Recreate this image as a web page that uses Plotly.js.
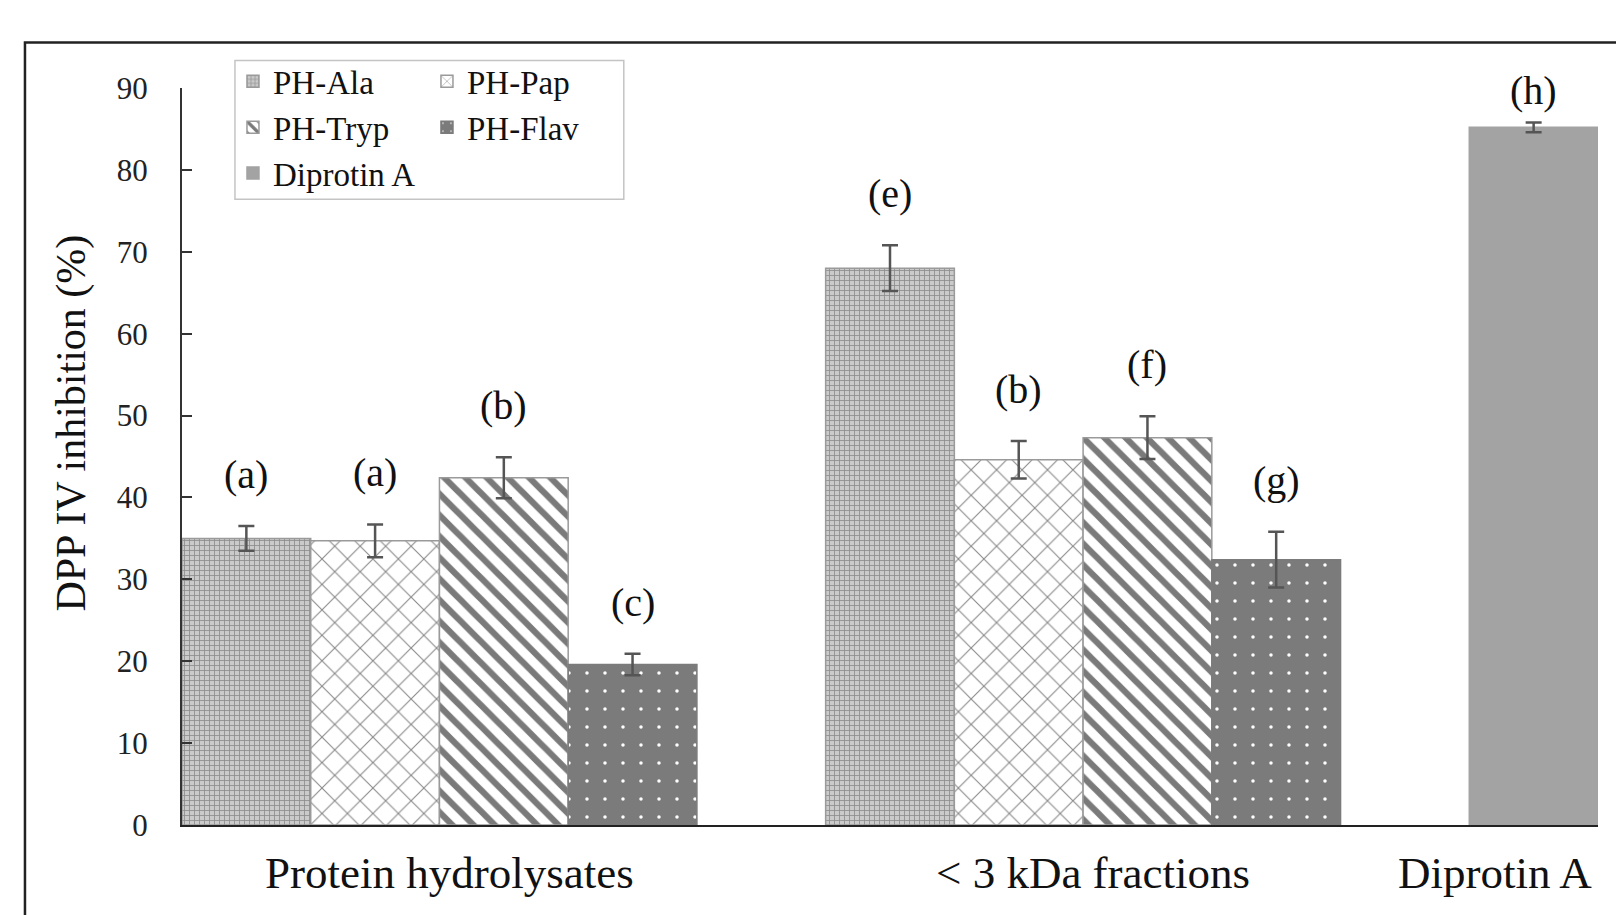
<!DOCTYPE html>
<html><head><meta charset="utf-8">
<script src="https://cdn.plot.ly/plotly-3.0.1.min.js"></script>
<style>html,body{margin:0;padding:0;background:#fff}#chart{width:1616px;height:915px}</style>
</head><body><div id="chart"></div>
<script>
// ---- data ----
const groups = ['Protein hydrolysates', '< 3 kDa fractions', 'Diprotin A'];
const seriesNames = ['PH-Ala', 'PH-Pap', 'PH-Tryp', 'PH-Flav', 'Diprotin A'];
const phAla     = [35.0, 68.0, null];
const phPap     = [34.7, 44.6, null];
const phTryp    = [42.4, 47.3, null];
const phFlav    = [19.6, 32.4, null];
const diprotinA = [null, null, 85.2];
const errAla     = [1.5, 2.8, null];
const errPap     = [2.0, 2.3, null];
const errTryp    = [2.5, 2.6, null];
const errFlav    = [1.3, 3.4, null];
const errDiprotin = [null, null, 0.6];
const lettersAla  = ['(a)', '(e)', null];
const lettersPap  = ['(a)', '(b)', null];
const lettersTryp = ['(b)', '(f)', null];
const lettersFlav = ['(c)', '(g)', null];
const lettersDiprotin = [null, null, '(h)'];
const yTicks = [0, 10, 20, 30, 40, 50, 60, 70, 80, 90];
const yTitle = 'DPP IV inhibition (%)';

// ---- assembly ----
const seriesValues = [phAla, phPap, phTryp, phFlav, diprotinA];
const seriesErr = [errAla, errPap, errTryp, errFlav, errDiprotin];
const seriesLetters = [lettersAla, lettersPap, lettersTryp, lettersFlav, lettersDiprotin];
const SLOTS = 5;
const Y_MAX = yTicks[yTicks.length - 1];
const xPos = seriesValues.map(() => []);
const groupCenters = [];
groups.forEach((g, gi) => {
  let k = 0; const xs = [];
  seriesValues.forEach((vals, si) => {
    if (vals[gi] != null) { xPos[si][gi] = gi * SLOTS + k + 0.5; xs.push(xPos[si][gi]); k++; }
    else xPos[si][gi] = null;
  });
  groupCenters.push(xs.reduce((a, b) => a + b, 0) / xs.length);
});
const xMax = Math.max(...xPos.flat().filter(v => v != null)) + 0.5;

const styles = [
  {pattern: {shape: '+', fgcolor: '#8c8c8c', bgcolor: '#cacaca', size: 5, solidity: 0.3}, line: '#9a9a9a', legend: 'legend'},
  {pattern: {shape: 'x', fgcolor: '#8a8a8a', bgcolor: '#ffffff', size: 18, solidity: 0.12}, line: '#9a9a9a', legend: 'legend2'},
  {pattern: {shape: '\\', fgcolor: '#7a7a7a', bgcolor: '#ffffff', size: 15, solidity: 0.42}, line: '#9a9a9a', legend: 'legend'},
  {pattern: {shape: '.', fgcolor: '#ffffff', bgcolor: '#7b7b7b', size: 18, solidity: 0.03}, line: '#7b7b7b', legend: 'legend2'},
  {pattern: null, color: '#a3a3a3', line: '#a3a3a3', legend: 'legend'}
];

const FONT = 'Liberation Serif, Times New Roman, serif';
const traces = seriesValues.map((vals, si) => {
  const idx = vals.map((v, i) => v != null ? i : -1).filter(i => i >= 0);
  const st = styles[si];
  const marker = {line: {color: st.line, width: 1.5}};
  if (st.pattern) { marker.color = st.pattern.bgcolor; marker.pattern = Object.assign({fillmode: 'replace'}, st.pattern); }
  else marker.color = st.color;
  return {
    type: 'bar', name: seriesNames[si], legend: st.legend,
    x: idx.map(i => xPos[si][i]), y: idx.map(i => vals[i]), width: idx.map(() => 1),
    error_y: {type: 'data', array: idx.map(i => seriesErr[si][i]), visible: true, color: '#555', thickness: 2.5, width: 8},
    marker: marker, hoverinfo: 'skip'
  };
});

const annotations = [];
seriesValues.forEach((vals, si) => vals.forEach((v, gi) => {
  if (v != null && seriesLetters[si][gi]) {
    const top = v + seriesErr[si][gi];
    const nearTop = top > Y_MAX - 7;   // keep label from leaving the axis range
    annotations.push({
      x: xPos[si][gi], y: nearTop ? Y_MAX : top, xref: 'x', yref: 'y', text: seriesLetters[si][gi],
      showarrow: false, yanchor: nearTop ? 'middle' : 'bottom', yshift: nearTop ? -2 : 27,
      font: {family: FONT, size: 40, color: '#111'}
    });
  }
}));
groups.forEach((g, gi) => {
  const last = gi === groups.length - 1;
  annotations.push({
    x: last ? xMax : groupCenters[gi], xanchor: last ? 'right' : 'center', xshift: last ? -4 : 10,
    y: 0, xref: 'x', yref: 'paper', yanchor: 'top', yshift: -21, text: g, showarrow: false,
    font: {family: FONT, size: 45, color: '#111'}
  });
});
// y-axis title
annotations.push({
  x: -0.0777, y: 0.546, xref: 'paper', yref: 'paper', xanchor: 'center', yanchor: 'middle',
  text: yTitle, textangle: -90, showarrow: false, font: {family: FONT, size: 42, color: '#111'}
});

const legendFont = {family: FONT, size: 33, color: '#111'};
const layout = {
  width: 1616, height: 915,
  margin: {l: 182, r: 18, t: 88, b: 90},
  paper_bgcolor: '#fff', plot_bgcolor: '#fff',
  barmode: 'overlay', bargap: 0,
  font: {family: FONT, color: '#111'},
  xaxis: {range: [0, xMax], showline: true, linecolor: '#222', linewidth: 2, ticks: '', showticklabels: false, showgrid: false, zeroline: false, fixedrange: true},
  yaxis: {range: [0, Y_MAX], tickvals: yTicks, ticks: 'inside', ticklen: 10, tickwidth: 2, tickcolor: '#333',
    showline: true, linecolor: '#333', linewidth: 2, showgrid: false, zeroline: false, fixedrange: true,
    ticklabelstandoff: 26, tickfont: {family: FONT, size: 31, color: '#222'}},
  legend: {x: 0.036, y: 1.047, xanchor: 'left', yanchor: 'top', orientation: 'v', bgcolor: 'rgba(0,0,0,0)', borderwidth: 0, font: legendFont, itemwidth: 30, tracegroupgap: 0},
  legend2: {x: 0.173, y: 1.047, xanchor: 'left', yanchor: 'top', orientation: 'v', bgcolor: 'rgba(0,0,0,0)', borderwidth: 0, font: legendFont, itemwidth: 30, tracegroupgap: 0},
  shapes: [
    {type: 'rect', xref: 'paper', yref: 'paper', x0: 0.0374, x1: 0.312, y0: 0.849, y1: 1.0374, line: {color: '#c4c4c4', width: 1.5}, fillcolor: 'rgba(0,0,0,0)', layer: 'below'},
    {type: 'rect', xref: 'paper', yref: 'paper', x0: -0.1109, x1: 1.05, y0: -0.2, y1: 1.0618, line: {color: '#222', width: 2.5}, fillcolor: 'rgba(0,0,0,0)'}
  ],
  annotations: annotations,
  showlegend: true
};
Plotly.newPlot('chart', traces, layout, {displayModeBar: false, staticPlot: true});
</script></body></html>
